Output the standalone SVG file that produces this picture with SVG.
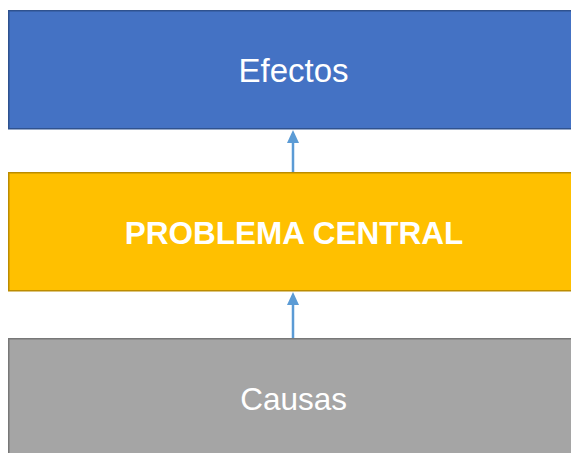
<svg xmlns="http://www.w3.org/2000/svg" width="571" height="453" viewBox="0 0 571 453">
<style>
.box{stroke-width:1.5}
.lbl{font-family:"Liberation Sans",Arial,sans-serif;fill:#FFFFFF;text-anchor:middle}
.conn{stroke:#5B9BD5;stroke-width:2.5;fill:none}
.head{fill:#5B9BD5}
</style>
<rect width="571" height="453" fill="#FFFFFF"/>
<g id="efectos">
<rect class="box" x="8.75" y="10.75" width="580" height="118" fill="#4472C4" stroke="#2F528F"/>
<text class="lbl" x="293.5" y="81.5" font-size="33">Efectos</text>
</g>
<g id="problema">
<rect class="box" x="8.75" y="172.75" width="580" height="118" fill="#FFC000" stroke="#BC8C00"/>
<text class="lbl" x="294" y="244" font-size="31.5" font-weight="bold">PROBLEMA CENTRAL</text>
</g>
<g id="causas">
<rect class="box" x="8.75" y="338.75" width="580" height="130" fill="#A5A5A5" stroke="#787878"/>
<text class="lbl" x="293.7" y="410" font-size="31.5">Causas</text>
</g>
<g id="connectors">
<line class="conn" x1="293" y1="172" x2="293" y2="141"/>
<polygon class="head" points="293,130 287,143 299,143"/>
<line class="conn" x1="293" y1="338" x2="293" y2="303"/>
<polygon class="head" points="293,292 287,305 299,305"/>
</g>
</svg>
